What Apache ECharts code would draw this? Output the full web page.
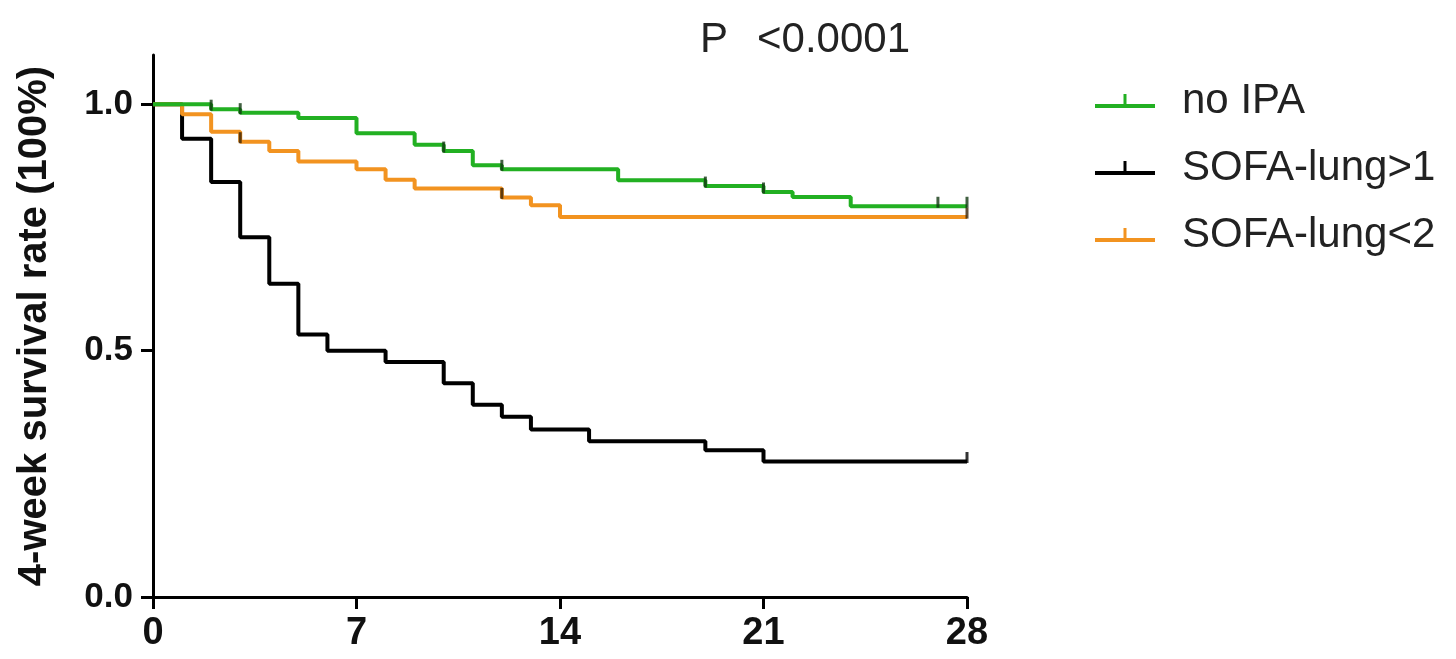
<!DOCTYPE html>
<html>
<head>
<meta charset="utf-8">
<style>
html,body{margin:0;padding:0;background:#fff;}
#chart{width:1456px;height:659px;}
</style>
<script src="https://cdn.jsdelivr.net/npm/echarts@6/dist/echarts.min.js"></script>
</head>
<body>
<div id="chart"></div>
<script>
// ---- data ----
const seriesNames = ['no IPA', 'SOFA-lung>1', 'SOFA-lung<2'];
const xTicks = [0, 7, 14, 21, 28];
const yTicks = [0, 0.5, 1.0];

// Kaplan-Meier step start points: [day, survival]
const noIPA = [[0,1.0],[2,0.99],[3,0.983],[5,0.972],[7,0.941],[9,0.918],[10,0.905],[11,0.876],[12,0.868],[16,0.846],[19,0.834],[21,0.822],[22,0.812],[24,0.793],[28,0.793]];
const sofaHigh = [[0,1.0],[1,0.93],[2,0.842],[3,0.73],[4,0.636],[5,0.533],[6,0.5],[8,0.477],[10,0.434],[11,0.39],[12,0.366],[13,0.34],[15,0.316],[19,0.298],[21,0.275],[28,0.275]];
const sofaLow = [[0,1.0],[1,0.98],[2,0.944],[3,0.924],[4,0.905],[5,0.884],[7,0.868],[8,0.847],[9,0.829],[12,0.811],[13,0.795],[14,0.771],[28,0.771]];

// censoring times
const censorNoIPA = [2, 3, 10, 12, 19, 21, 27, 28];
const censorHigh = [28];
const censorLow = [3, 12, 28];

const colors = { green: '#22b022', black: '#000000', orange: '#f29320' };

function survAt(curve, t) {
  let v = curve[0][1];
  for (const p of curve) { if (p[0] <= t) v = p[1]; }
  return v;
}
function censorPts(curve, times) { return times.map(t => [t, survAt(curve, t)]); }

const chart = echarts.init(document.getElementById('chart'), null, {renderer: 'canvas'});
const FONT = '"Liberation Sans", Arial, sans-serif';

const tickSeries = (name, curve, times, color) => ({
  name: name, type: 'scatter', data: censorPts(curve, times),
  symbol: 'rect', symbolSize: [3, 11], symbolOffset: [0, -4],
  itemStyle: { color: color }, z: 5, silent: true
});

chart.setOption({
  animation: false,
  backgroundColor: '#ffffff',
  grid: { left: 153, right: 489, top: 55, bottom: 62, containLabel: false },
  xAxis: {
    type: 'value', min: 0, max: 28, interval: 7,
    axisLine: { show: true, onZero: false, lineStyle: { color: '#000', width: 3 } },
    axisTick: { show: true, length: 12, lineStyle: { color: '#000', width: 3 }, customValues: xTicks },
    axisLabel: { customValues: xTicks, fontFamily: FONT, fontWeight: 'bold', fontSize: 38, color: '#111', margin: 18 },
    splitLine: { show: false }
  },
  yAxis: {
    type: 'value', min: 0, max: 1.1,
    name: '4-week survival rate (100%)', nameLocation: 'middle', nameGap: 98, nameRotate: 90,
    nameTextStyle: { fontFamily: FONT, fontWeight: 'bold', fontSize: 40, color: '#111' },
    axisLine: { show: true, lineStyle: { color: '#000', width: 3 } },
    axisTick: { show: true, length: 12, lineStyle: { color: '#000', width: 3 }, customValues: yTicks },
    axisLabel: { customValues: yTicks, formatter: v => v.toFixed(1), fontFamily: FONT, fontWeight: 'bold', fontSize: 35, color: '#111', margin: 20 },
    splitLine: { show: false }
  },
  legend: {
    orient: 'vertical', left: 1090, top: 75,
    data: seriesNames, itemWidth: 60, itemHeight: 14, itemGap: 25,
    icon: 'path://M0,10L60,10L60,14L0,14Z M28.5,0L31.5,0L31.5,10L28.5,10Z',
    textStyle: { fontFamily: FONT, fontSize: 42, lineHeight: 42, color: '#222', padding: [0, 0, 0, 22] }
  },
  graphic: [
    { type: 'text', left: 700, top: 19, style: { text: 'P', font: '42px ' + FONT, fill: '#222' } },
    { type: 'text', left: 757, top: 19, style: { text: '<0.0001', font: '42px ' + FONT, fill: '#222' } }
  ],
  series: [
    { name: 'SOFA-lung>1', type: 'line', step: 'end', data: sofaHigh, showSymbol: false, symbol: 'none',
      lineStyle: { color: colors.black, width: 4 }, itemStyle: { color: colors.black }, z: 2 },
    { name: 'SOFA-lung<2', type: 'line', step: 'end', data: sofaLow, showSymbol: false, symbol: 'none',
      lineStyle: { color: colors.orange, width: 4 }, itemStyle: { color: colors.orange }, z: 3 },
    { name: 'no IPA', type: 'line', step: 'end', data: noIPA, showSymbol: false, symbol: 'none',
      lineStyle: { color: colors.green, width: 4 }, itemStyle: { color: colors.green }, z: 4 },
    tickSeries('censor SOFA-lung>1', sofaHigh, censorHigh, '#000'),
    tickSeries('censor SOFA-lung<2', sofaLow, censorLow, '#3a2408'),
    tickSeries('censor no IPA', noIPA, censorNoIPA, '#123812')
  ]
});
</script>
</body>
</html>
